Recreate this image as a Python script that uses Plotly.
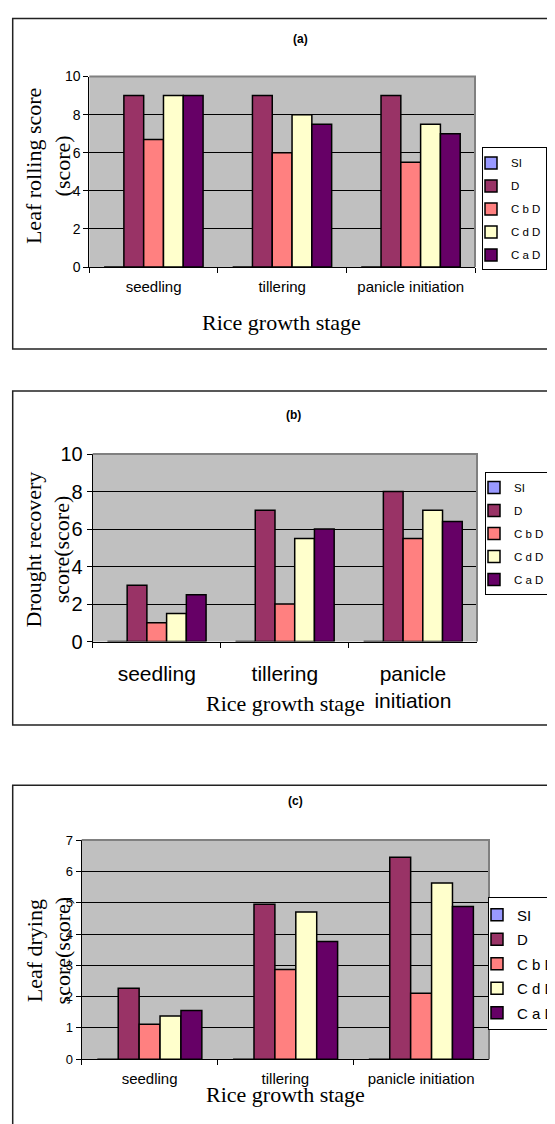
import plotly.graph_objects as go

# page body margin is 8px; the figure is allowed to run past the window's right/bottom edges
OX, OY = 8, 8
FW, FH = 600, 1124

# ---------------- data ----------------
series_names = ["SI", "D", "C b D", "C d D", "C a D"]
series_colors = ["#9999FF", "#993366", "#FF8080", "#FFFFCC", "#660066"]

categories_a = ["seedling", "tillering", "panicle initiation"]
categories_b = ["seedling", "tillering", "panicle<br>initiation"]
categories_c = ["seedling", "tillering", "panicle initiation"]

# (a) Leaf rolling score
si_a = [0, 0, 0]
d_a = [9, 9, 9]
cbd_a = [6.7, 6.0, 5.5]
cdd_a = [9, 8, 7.5]
cad_a = [9, 7.5, 7]

# (b) Drought recovery score
si_b = [0, 0, 0]
d_b = [3, 7, 8]
cbd_b = [1, 2, 5.5]
cdd_b = [1.5, 5.5, 7]
cad_b = [2.5, 6, 6.4]

# (c) Leaf drying score
si_c = [0, 0, 0]
d_c = [2.27, 4.95, 6.45]
cbd_c = [1.12, 2.87, 2.11]
cdd_c = [1.38, 4.70, 5.63]
cad_c = [1.56, 3.76, 4.88]

y_ticks_a = [0, 2, 4, 6, 8, 10]
y_ticks_b = [0, 2, 4, 6, 8, 10]
y_ticks_c = [0, 1, 2, 3, 4, 5, 6, 7]

# ---------------- helpers ----------------
def px(x):
    return (x - OX) / FW

def py(y):
    return 1 - (y - OY) / FH

ARIAL = "Arial, Liberation Sans, sans-serif"
TIMES = "Times New Roman, Liberation Serif, serif"

fig = go.Figure()

panels = [
    dict(cats=categories_a, vals=[si_a, d_a, cbd_a, cdd_a, cad_a], xa="x", ya="y", leg="legend", grp="a"),
    dict(cats=categories_b, vals=[si_b, d_b, cbd_b, cdd_b, cad_b], xa="x2", ya="y2", leg="legend2", grp="b"),
    dict(cats=categories_c, vals=[si_c, d_c, cbd_c, cdd_c, cad_c], xa="x3", ya="y3", leg="legend3", grp="c"),
]

for p in panels:
    for name, color, vals in zip(series_names, series_colors, p["vals"]):
        fig.add_trace(go.Bar(
            x=p["cats"], y=vals, name=name,
            marker=dict(color=color, line=dict(color="black", width=1.5)),
            xaxis=p["xa"], yaxis=p["ya"], legend=p["leg"],
            legendgroup=p["grp"] + name,
        ))

# plot area boxes (page pixels): left, right, top, bottom
pa = (89.3, 475, 66.7, 261)
pb = (92.7, 477, 451.7, 643)
pc = (81.7, 489, 845.5, 1069)

def xaxis_cfg(box, font_size, standoff):
    return dict(
        domain=[px(box[0]), px(box[1])], type="category",
        showline=True, linecolor="black", linewidth=1,
        ticks="outside", tickson="boundaries", ticklen=5, tickcolor="black",
        tickfont=dict(family=ARIAL, size=font_size, color="black"),
        ticklabelstandoff=standoff,
        showgrid=False, zeroline=False, fixedrange=True,
    )

def yaxis_cfg(box, rng, tickvals, font_size, anchor):
    return dict(
        domain=[py(box[3]), py(box[2])], range=rng, tickvals=tickvals,
        showline=True, linecolor="black", linewidth=1,
        ticks="outside", ticklen=5, tickcolor="black",
        tickfont=dict(family=ARIAL, size=font_size, color="black"),
        showgrid=True, gridcolor="black", gridwidth=1,
        zeroline=False, anchor=anchor, fixedrange=True,
    )

def legend_cfg(x, y, font_size, gap):
    return dict(
        x=px(x), y=py(y), xanchor="left", yanchor="top", xref="paper", yref="paper",
        bgcolor="white", bordercolor="black", borderwidth=1,
        font=dict(family=ARIAL, size=font_size, color="black"),
        tracegroupgap=gap, itemwidth=30, indentation=-12,
        itemclick=False, itemdoubleclick=False,
    )

fig.update_layout(
    width=FW, height=FH, margin=dict(l=0, r=0, t=0, b=0),
    paper_bgcolor="white", plot_bgcolor="#C0C0C0",
    barmode="group", bargap=0.23, bargroupgap=0,
    showlegend=True,
    xaxis=dict(**xaxis_cfg(pa, 15, 6), anchor="y"),
    yaxis=yaxis_cfg(pa, [0, 10], y_ticks_a, 14, "x"),
    xaxis2=dict(**xaxis_cfg(pb, 21, 13), anchor="y2"),
    yaxis2=yaxis_cfg(pb, [0, 10], y_ticks_b, 20, "x2"),
    xaxis3=dict(**xaxis_cfg(pc, 15, 6), anchor="y3"),
    yaxis3=yaxis_cfg(pc, [0, 7], y_ticks_c, 13, "x3"),
    legend=legend_cfg(482, 139, 11.5, 4),
    legend2=legend_cfg(485, 470, 11.5, 4),
    legend3=legend_cfg(488, 904, 15, 2),
)

shapes = []
# outer frames
for (top, bottom) in [(7.5, 344.5), (387.5, 728), (789.5, 1160)]:
    shapes.append(dict(type="rect", xref="paper", yref="paper",
                       x0=px(12.7), x1=px(640), y0=py(bottom), y1=py(top),
                       line=dict(color="#222222", width=1.5), fillcolor="rgba(0,0,0,0)", layer="below"))
# gray plot-area border top and right
for box in (pa, pb, pc):
    shapes.append(dict(type="line", xref="paper", yref="paper",
                       x0=px(box[0]), x1=px(box[1] + 1), y0=py(box[2]), y1=py(box[2]),
                       line=dict(color="#808080", width=2)))
    shapes.append(dict(type="line", xref="paper", yref="paper",
                       x0=px(box[1]), x1=px(box[1]), y0=py(box[3]), y1=py(box[2]),
                       line=dict(color="#808080", width=2)))
fig.update_layout(shapes=shapes)

ann = []
def text(x, y, t, size, family, angle=0):
    ann.append(dict(x=px(x), y=py(y), xref="paper", yref="paper", text=t, showarrow=False,
                    xanchor="center", yanchor="middle", textangle=angle,
                    font=dict(family=family, size=size, color="black")))

text(300, 28, "<b>(a)</b>", 12, ARIAL)
text(293, 412, "<b>(b)</b>", 12, ARIAL)
text(295, 806, "<b>(c)</b>", 12, ARIAL)

text(281, 318, "Rice growth stage", 22, TIMES)
text(285, 706, "Rice growth stage", 22, TIMES)
text(285, 1105, "Rice growth stage", 22, TIMES)

text(48, 158, "Leaf rolling score<br>(score)", 22, TIMES, -90)
text(48, 549, "Drought recovery<br>score(score)", 22, TIMES, -90)
text(49, 958, "Leaf drying<br>score(score)", 22, TIMES, -90)

fig.update_layout(annotations=ann)

fig.write_html("out.html")
